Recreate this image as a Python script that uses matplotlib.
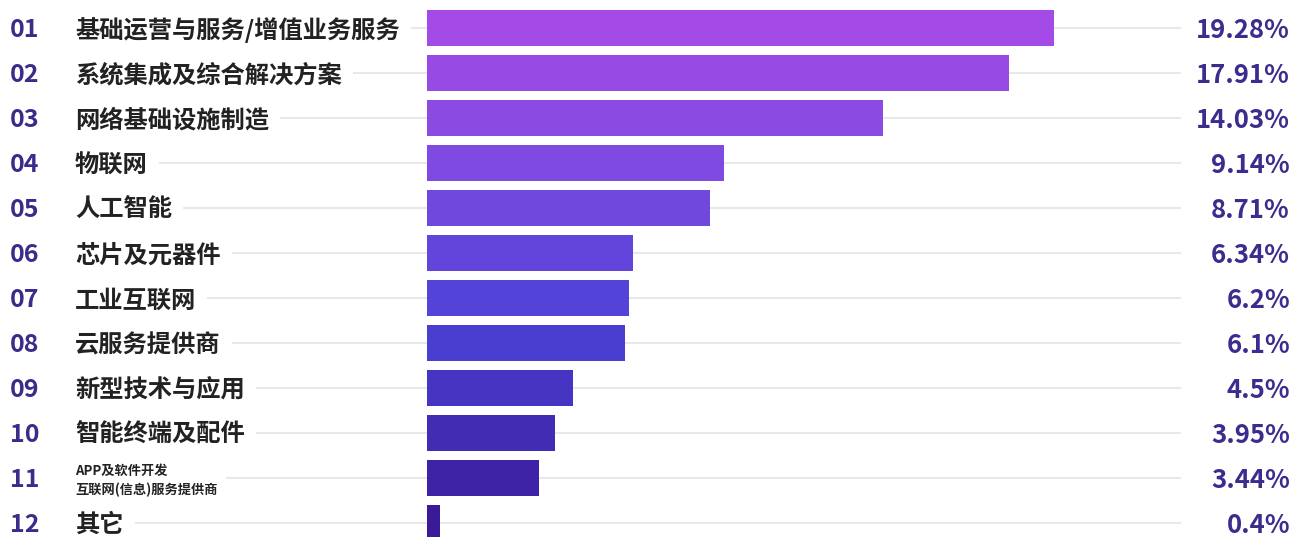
import matplotlib
matplotlib.use('Agg')
import matplotlib.pyplot as plt
from matplotlib.colors import LinearSegmentedColormap
from matplotlib.transforms import blended_transform_factory

plt.rcParams['font.family'] = ['Noto Sans CJK SC', 'DejaVu Sans']

#data
ranks = ['01', '02', '03', '04', '05', '06', '07', '08', '09', '10', '11', '12']
labels = ['基础运营与服务/增值业务服务', '系统集成及综合解决方案', '网络基础设施制造', '物联网',
          '人工智能', '芯片及元器件', '工业互联网', '云服务提供商', '新型技术与应用',
          '智能终端及配件', 'APP及软件开发\n互联网(信息)服务提供商', '其它']
values = [19.28, 17.91, 14.03, 9.14, 8.71, 6.34, 6.2, 6.1, 4.5, 3.95, 3.44, 0.4]
value_labels = ['19.28%', '17.91%', '14.03%', '9.14%', '8.71%', '6.34%', '6.2%', '6.1%',
                '4.5%', '3.95%', '3.44%', '0.4%']

W, H = 1294, 537
fig = plt.figure(figsize=(W / 100, H / 100), dpi=100)
ax = fig.add_axes([0, 0, 1, 1])
ax.axis('off')

# pixel mapping: bars start at x=427, ~32.5 px per percent; rows 45 px apart
ax.set_xlim(-427 / 32.5, (W - 427) / 32.5)
ax.set_ylim((H - 28) / 45, -28 / 45)

cmap = LinearSegmentedColormap.from_list('bars', [(0, '#a44ae6'), (0.3, '#7b4ae0'),
                                                  (0.6, '#4b42d6'), (1, '#3b1a98')])
n = len(values)
ypos = list(range(n))
colors = [cmap(i / (n - 1)) for i in ypos]

bt = blended_transform_factory(ax.transAxes, ax.transData)

#faint guide lines
for y in ypos:
    ax.plot([75 / W, 1180 / W], [y, y], color='#e8e8e8', lw=1.5, transform=bt, zorder=1)

ax.barh(ypos, values, height=0.78, color=colors, zorder=2)

dy = 0.05  # text sits a touch lower than bar centre
for y, r, lab, vl in zip(ypos, ranks, labels, value_labels):
    ax.text(10 / W, y + dy, r, transform=bt, ha='left', va='center', fontsize=18,
            fontweight='bold', color='#3a2c8a', zorder=3)
    if '\n' in lab:
        ax.text(75 / W, y + dy, lab, transform=bt, ha='left', va='center', fontsize=9.5,
                fontweight='bold', color='#222222', linespacing=1.4, zorder=3,
                bbox=dict(facecolor='white', edgecolor='none', pad=6))
    else:
        ax.text(75 / W, y + dy, lab, transform=bt, ha='left', va='center', fontsize=17.5,
                fontweight='bold', color='#222222', zorder=3,
                bbox=dict(facecolor='white', edgecolor='none', pad=8))
    ax.text(1290 / W, y + dy, vl, transform=bt, ha='right', va='center', fontsize=18.5,
            fontweight='bold', color='#3b2d8e', zorder=3)

fig.savefig('out.png', dpi=100, facecolor='white')
